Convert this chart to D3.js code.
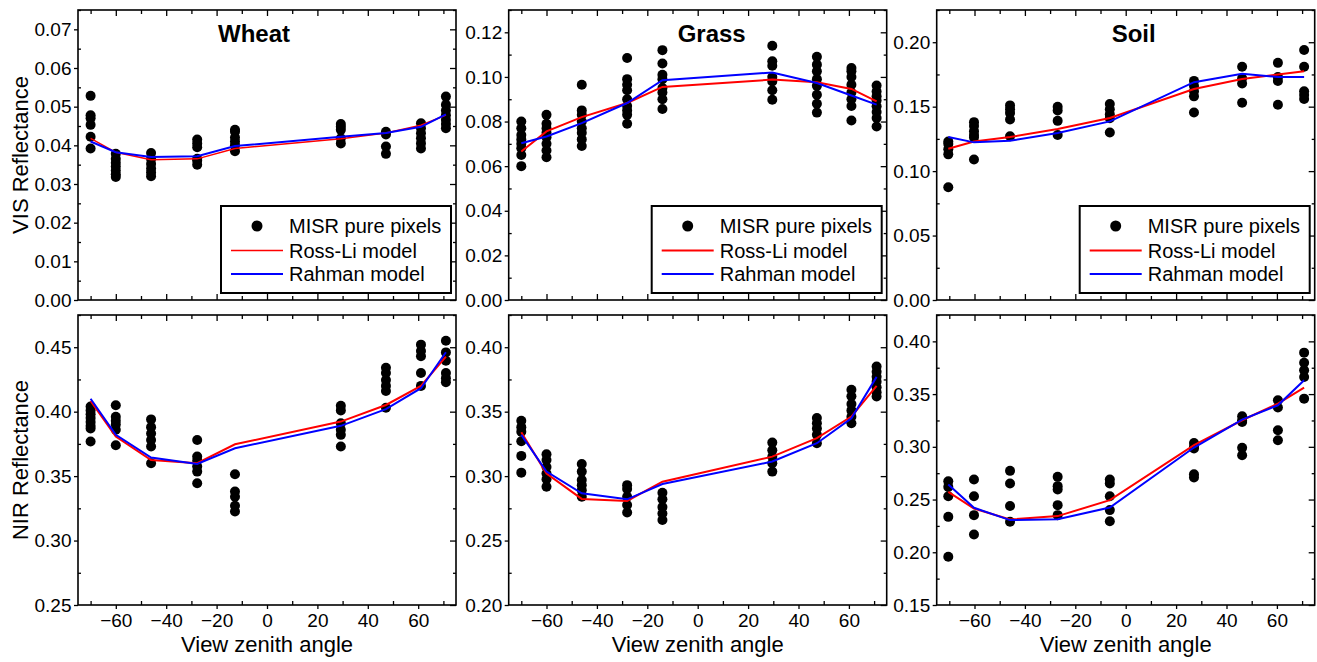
<!DOCTYPE html>
<html>
<head>
<meta charset="utf-8">
<script src="https://cdn.jsdelivr.net/npm/d3@7"></script>
<style>
  body { margin: 0; background: #fff; }
  svg text { font-family: "Liberation Sans", Arial, sans-serif; fill: #000; }
</style>
</head>
<body>
<svg id="chart" width="1317" height="662"></svg>
<script>
// view zenith angles of the nine MISR cameras at each site
const wheatAngles = [-70, -60, -46, -27.7, -12.7, 29.3, 47.2, 61.1, 71];
const grassAngles = [-70, -60, -46, -28, -14, 29.6, 47.3, 61, 71];
const soilAngles  = [-70.4, -60.2, -45.9, -27, -6.3, 27.1, 46.2, 60.4, 70.8];

// VIS band
const wheatVisObs = [
  [0.0528, 0.0478, 0.0470, 0.0453, 0.0422, 0.0392],
  [0.0378, 0.0365, 0.0355, 0.0345, 0.0335, 0.0325, 0.0318],
  [0.0380, 0.0365, 0.0352, 0.0340, 0.0330, 0.0320],
  [0.0415, 0.0405, 0.0395, 0.0365, 0.0360, 0.0350],
  [0.0440, 0.0435, 0.0420, 0.0410, 0.0400, 0.0385],
  [0.0455, 0.0448, 0.0440, 0.0418, 0.0405],
  [0.0435, 0.0428, 0.0397, 0.0378],
  [0.0457, 0.0444, 0.0431, 0.0418, 0.0405, 0.0392],
  [0.0526, 0.0505, 0.0490, 0.0478, 0.0466, 0.0455, 0.0444]
];
const wheatVisRossLi = [0.0418, 0.0382, 0.0363, 0.0365, 0.0392, 0.0417, 0.0432, 0.0452, 0.0478];
const wheatVisRahman = [0.0410, 0.0382, 0.0370, 0.0372, 0.0398, 0.0422, 0.0432, 0.0448, 0.0480];

const grassVisObs = [
  [0.080, 0.077, 0.074, 0.072, 0.070, 0.068, 0.065, 0.060],
  [0.083, 0.079, 0.077, 0.075, 0.073, 0.070, 0.067, 0.064],
  [0.0965, 0.085, 0.083, 0.080, 0.077, 0.075, 0.072, 0.069],
  [0.1085, 0.099, 0.0965, 0.094, 0.090, 0.087, 0.085, 0.083, 0.079],
  [0.112, 0.106, 0.101, 0.099, 0.095, 0.093, 0.090, 0.0856],
  [0.114, 0.107, 0.105, 0.100, 0.098, 0.094, 0.0898],
  [0.109, 0.1055, 0.1025, 0.099, 0.096, 0.092, 0.088, 0.084],
  [0.104, 0.1025, 0.100, 0.0965, 0.093, 0.090, 0.087, 0.0805],
  [0.0961, 0.0935, 0.0913, 0.0894, 0.0868, 0.0843, 0.0816, 0.0778]
];
const grassVisRossLi = [0.0666, 0.0756, 0.0820, 0.0883, 0.0955, 0.0988, 0.0976, 0.0946, 0.0890];
const grassVisRahman = [0.0703, 0.0733, 0.0793, 0.0883, 0.0985, 0.1020, 0.0973, 0.0917, 0.0876];

const soilVisObs = [
  [0.123, 0.121, 0.117, 0.113, 0.0875],
  [0.138, 0.135, 0.131, 0.128, 0.126, 0.109],
  [0.151, 0.148, 0.145, 0.140, 0.127],
  [0.150, 0.147, 0.139, 0.128],
  [0.152, 0.148, 0.144, 0.141, 0.130],
  [0.170, 0.166, 0.162, 0.158, 0.1455],
  [0.181, 0.172, 0.168, 0.153],
  [0.184, 0.173, 0.170, 0.1515],
  [0.194, 0.181, 0.162, 0.159, 0.156]
];
const soilVisRossLi = [0.1174, 0.1230, 0.1264, 0.1326, 0.1412, 0.1637, 0.1715, 0.1749, 0.1775];
const soilVisRahman = [0.1264, 0.1223, 0.1236, 0.1295, 0.1386, 0.1690, 0.1756, 0.1730, 0.1730];

// NIR band
const wheatNirObs = [
  [0.404, 0.401, 0.398, 0.395, 0.392, 0.389, 0.387, 0.3768],
  [0.405, 0.396, 0.393, 0.390, 0.386, 0.374],
  [0.394, 0.388, 0.383, 0.378, 0.373, 0.360],
  [0.378, 0.3652, 0.362, 0.3575, 0.3535, 0.3444],
  [0.3514, 0.338, 0.334, 0.327, 0.3225],
  [0.4045, 0.401, 0.391, 0.386, 0.382, 0.373],
  [0.434, 0.430, 0.4246, 0.420, 0.416, 0.403],
  [0.452, 0.447, 0.443, 0.430, 0.420],
  [0.455, 0.446, 0.4395, 0.430, 0.426, 0.4228]
];
const wheatNirRossLi = [0.4083, 0.3807, 0.3625, 0.3600, 0.3747, 0.3923, 0.4052, 0.4200, 0.4427];
const wheatNirRahman = [0.4100, 0.3820, 0.3644, 0.3594, 0.3716, 0.3890, 0.4019, 0.4182, 0.4461];

const grassNirObs = [
  [0.343, 0.338, 0.3345, 0.327, 0.3157, 0.3027],
  [0.317, 0.3125, 0.307, 0.302, 0.2975, 0.2918],
  [0.3094, 0.3035, 0.297, 0.293, 0.289, 0.284],
  [0.293, 0.290, 0.284, 0.2776, 0.2717],
  [0.287, 0.282, 0.276, 0.271, 0.266],
  [0.326, 0.320, 0.315, 0.310, 0.3035],
  [0.345, 0.341, 0.337, 0.332, 0.3255],
  [0.367, 0.362, 0.356, 0.351, 0.346, 0.341],
  [0.385, 0.381, 0.377, 0.3733, 0.369, 0.365, 0.3617]
];
const grassNirRossLi = [0.3340, 0.3020, 0.2823, 0.2807, 0.2957, 0.3151, 0.3294, 0.3462, 0.3700];
const grassNirRahman = [0.3320, 0.3035, 0.2867, 0.2820, 0.2939, 0.3113, 0.3255, 0.3449, 0.3770];

const soilNirObs = [
  [0.2674, 0.262, 0.2532, 0.2336, 0.1958],
  [0.269, 0.2532, 0.2352, 0.2169],
  [0.2772, 0.2652, 0.2438, 0.2289],
  [0.2715, 0.2627, 0.2595, 0.2447, 0.2352],
  [0.269, 0.2652, 0.2532, 0.240, 0.2295],
  [0.3037, 0.300, 0.2984, 0.274, 0.2709],
  [0.329, 0.325, 0.3236, 0.299, 0.292],
  [0.3441, 0.3372, 0.3157, 0.3063],
  [0.3893, 0.3798, 0.3725, 0.3662, 0.3457]
];
const soilNirRossLi = [0.2573, 0.2415, 0.2311, 0.2343, 0.2494, 0.3015, 0.3252, 0.3410, 0.3561];
const soilNirRahman = [0.2643, 0.2422, 0.2305, 0.2314, 0.2425, 0.2993, 0.3258, 0.3394, 0.3631];

const legendLabels = ["MISR pure pixels", "Ross-Li model", "Rahman model"];
const xTitle = "View zenith angle";
const yTitles = ["VIS Reflectance", "NIR Reflectance"];

const panels = [
  { row: 0, col: 0, title: "Wheat", titleDx: -13, angles: wheatAngles, obs: wheatVisObs, rossLi: wheatVisRossLi, rahman: wheatVisRahman, yDomain: [0, 0.075], major: 0.01, minor: 0.005, legend: true },
  { row: 0, col: 1, title: "Grass", titleDx: 14, angles: grassAngles, obs: grassVisObs, rossLi: grassVisRossLi, rahman: grassVisRahman, yDomain: [0, 0.13], major: 0.02, minor: 0.01, legend: true },
  { row: 0, col: 2, title: "Soil", titleDx: 8, angles: soilAngles, obs: soilVisObs, rossLi: soilVisRossLi, rahman: soilVisRahman, yDomain: [0, 0.225], major: 0.05, minor: 0.025, legend: true },
  { row: 1, col: 0, angles: wheatAngles, obs: wheatNirObs, rossLi: wheatNirRossLi, rahman: wheatNirRahman, yDomain: [0.25, 0.475], major: 0.05, minor: 0.025 },
  { row: 1, col: 1, angles: grassAngles, obs: grassNirObs, rossLi: grassNirRossLi, rahman: grassNirRahman, yDomain: [0.2, 0.425], major: 0.05, minor: 0.025 },
  { row: 1, col: 2, angles: soilAngles, obs: soilNirObs, rossLi: soilNirRossLi, rahman: soilNirRahman, yDomain: [0.15, 0.425], major: 0.05, minor: 0.025 }
];

const colLeft = [78, 508.7, 936.7];
const rowTop = [10, 315];
const pw = 378, ph = 290;
const xDomain = [-75, 75];

// tick values on a step grid, split into majors and minors
function gridTicks(domain, step) {
  const lo = Math.ceil(domain[0] / step - 1e-6), hi = Math.floor(domain[1] / step + 1e-6);
  return d3.range(lo, hi + 1).map(i => +(i * step).toFixed(5));
}
function minorTicks(domain, minor, major) {
  return gridTicks(domain, minor).filter(v => Math.abs(v / major - Math.round(v / major)) > 1e-6);
}

const svg = d3.select("#chart");
const noDomain = g => g.select(".domain").remove();

panels.forEach(p => {
  const g = svg.append("g").attr("transform", `translate(${colLeft[p.col]},${rowTop[p.row]})`);
  const x = d3.scaleLinear().domain(xDomain).range([0, pw]);
  const y = d3.scaleLinear().domain(p.yDomain).range([ph, 0]);

  const yMaj = gridTicks(p.yDomain, p.major);
  const yMin = minorTicks(p.yDomain, p.minor, p.major);
  const xMaj = gridTicks([-60, 60], 20);
  const xMin = minorTicks(xDomain, 10, 20);

  // left axis: labelled majors outward, minors inward
  g.append("g").attr("class", "axis")
    .call(d3.axisLeft(y).tickValues(yMaj).tickSize(4).tickPadding(2.5).tickFormat(d3.format(".2f")))
    .call(noDomain);
  g.append("g").call(d3.axisLeft(y).tickValues(yMin).tickSize(-3).tickFormat("")).call(noDomain);
  // right mirror
  g.append("g").attr("transform", `translate(${pw},0)`)
    .call(d3.axisRight(y).tickValues(yMaj).tickSize(-6).tickFormat("")).call(noDomain);
  g.append("g").attr("transform", `translate(${pw},0)`)
    .call(d3.axisRight(y).tickValues(yMin).tickSize(-3).tickFormat("")).call(noDomain);
  // top mirror
  g.append("g").call(d3.axisBottom(x).tickValues(xMaj).tickSize(6).tickFormat("")).call(noDomain);
  g.append("g").call(d3.axisBottom(x).tickValues(xMin).tickSize(4).tickFormat("")).call(noDomain);
  // bottom axis
  if (p.row === 1) {
    g.append("g").attr("class", "axis").attr("transform", `translate(0,${ph})`)
      .call(d3.axisBottom(x).tickValues(xMaj).tickSize(4).tickPadding(5).tickFormat(d3.format("d")))
      .call(noDomain);
    g.append("g").attr("transform", `translate(0,${ph})`)
      .call(d3.axisBottom(x).tickValues(xMin).tickSize(-4).tickFormat("")).call(noDomain);
  } else {
    g.append("g").attr("transform", `translate(0,${ph})`)
      .call(d3.axisBottom(x).tickValues(xMaj).tickSize(-6).tickFormat("")).call(noDomain);
    g.append("g").attr("transform", `translate(0,${ph})`)
      .call(d3.axisBottom(x).tickValues(xMin).tickSize(-4).tickFormat("")).call(noDomain);
  }
  g.selectAll(".tick line").attr("stroke", "#000").attr("stroke-width", 1.3);
  g.selectAll(".axis .tick text").attr("font-size", 19).attr("fill", "#000")
    .attr("font-family", "'Liberation Sans', Arial, sans-serif");

  g.append("rect").attr("width", pw).attr("height", ph)
    .attr("fill", "none").attr("stroke", "#000").attr("stroke-width", 1.6);

  // observations
  const pts = [];
  p.obs.forEach((vals, i) => vals.forEach(v => pts.push([p.angles[i], v])));
  g.append("g").selectAll("circle").data(pts).join("circle")
    .attr("cx", d => x(d[0])).attr("cy", d => y(d[1])).attr("r", 5).attr("fill", "#000");

  const line = d3.line().x((d, i) => x(p.angles[i])).y(d => y(d));
  g.append("path").datum(p.rossLi).attr("d", line)
    .attr("fill", "none").attr("stroke", "#ff0000").attr("stroke-width", p.col === 0 && p.row === 0 ? 1.5 : 2);
  g.append("path").datum(p.rahman).attr("d", line)
    .attr("fill", "none").attr("stroke", "#0000ff").attr("stroke-width", 2);

  if (p.title) {
    g.append("text").attr("x", pw / 2 + p.titleDx).attr("y", 32)
      .attr("text-anchor", "middle").attr("font-size", 24).attr("font-weight", "bold").text(p.title);
  }

  if (p.legend) {
    const lw = 230, lh = 87;
    const lg = g.append("g").attr("transform", `translate(${pw - 5 - lw},${ph - 7 - lh})`);
    lg.append("rect").attr("width", lw).attr("height", lh)
      .attr("fill", "#fff").attr("stroke", "#000").attr("stroke-width", 2);
    const rows = [20, 44.5, 68];
    lg.append("circle").attr("cx", 36).attr("cy", rows[0]).attr("r", 5.5).attr("fill", "#000");
    lg.append("line").attr("x1", 10).attr("x2", 62).attr("y1", rows[1]).attr("y2", rows[1])
      .attr("stroke", "#ff0000").attr("stroke-width", p.col === 0 ? 1.5 : 2);
    lg.append("line").attr("x1", 10).attr("x2", 62).attr("y1", rows[2]).attr("y2", rows[2])
      .attr("stroke", "#0000ff").attr("stroke-width", 2);
    legendLabels.forEach((t, i) => {
      lg.append("text").attr("x", 68).attr("y", rows[i] + 7).attr("font-size", 20).text(t);
    });
  }

  if (p.row === 1) {
    g.append("text").attr("x", pw / 2).attr("y", ph + 47)
      .attr("text-anchor", "middle").attr("font-size", 22).text(xTitle);
  }
  if (p.col === 0) {
    g.append("text").attr("transform", `translate(${28 - colLeft[0]},${ph / 2}) rotate(-90)`)
      .attr("text-anchor", "middle").attr("font-size", 22).text(yTitles[p.row]);
  }
});
</script>
</body>
</html>
